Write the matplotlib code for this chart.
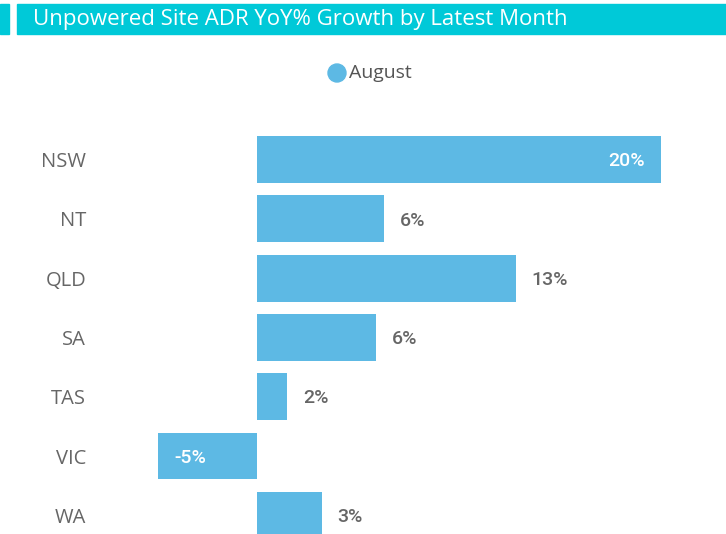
import matplotlib
matplotlib.use("Agg")
import matplotlib.pyplot as plt
from matplotlib.patches import Rectangle, Ellipse

states = ["NSW", "NT", "QLD", "SA", "TAS", "VIC", "WA"]
values = [20.0, 6.3, 12.8, 5.9, 1.5, -4.9, 3.2]
labels = ["20%", "6%", "13%", "6%", "2%", "-5%", "3%"]
series_name = "August"
title = "Unpowered Site ADR YoY% Growth by Latest Month"

W, H = 726, 534
bar_color = "#5DB9E4"
teal = "#00C9D8"

fig = plt.figure(figsize=(W / 100, H / 100), dpi=100)

# title bar
fig.patches.append(Rectangle((0 / W, 1 - 34 / H), 9 / W, 30 / H, transform=fig.transFigure,
                             color=teal, zorder=0))
fig.patches.append(Rectangle((17 / W, 1 - 34 / H), (W - 17) / W, 30 / H, transform=fig.transFigure,
                             color=teal, zorder=0))
fig.text(33 / W, 1 - 20 / H, title, color="white", fontsize=16, family="Open Sans",
         ha="left", va="center")

# axes
ax_l, ax_r = 150, 720
ax_t, ax_b = 110, 534
ax = fig.add_axes([ax_l / W, 1 - ax_b / H, (ax_r - ax_l) / W, (ax_b - ax_t) / H])
zero_px = 257
ppu = 20.2
ax.set_xlim((ax_l - zero_px) / ppu, (ax_r - zero_px) / ppu)
pitch = 59.3
c0 = 159.5
ax.set_ylim((ax_b - c0) / pitch, (ax_t - c0) / pitch)

ypos = list(range(len(states)))
ax.barh(ypos, values, height=0.79, color=bar_color, zorder=2)

ax.set_yticks(ypos)
ax.set_yticklabels(states, family="Open Sans", fontsize=14.5, color="#666666")
ax.tick_params(axis="y", length=0, pad=46)
ax.set_xticks([])
for s in ax.spines.values():
    s.set_visible(False)

off = 16 / ppu
lab_kw = dict(va="center", fontsize=14, family="Roboto", fontweight="medium", zorder=3)
for y, v, lab in zip(ypos, values, labels):
    if v >= 15:
        ax.text(v - off, y + 0.03, lab, ha="right", color="white", **lab_kw)
    elif v < 0:
        ax.text(v + off, y + 0.03, lab, ha="left", color="white", **lab_kw)
    else:
        ax.text(v + off, y + 0.03, lab, ha="left", color="#666666", **lab_kw)

# legend
fig.patches.append(Ellipse((337 / W, 1 - 73 / H), 18 / W, 18 / H,
                           transform=fig.transFigure, color=bar_color))
fig.text(349 / W, 1 - 73 / H, series_name, color="#555555", fontsize=14,
         family="Open Sans", ha="left", va="center")

fig.savefig("out.png", dpi=100)
